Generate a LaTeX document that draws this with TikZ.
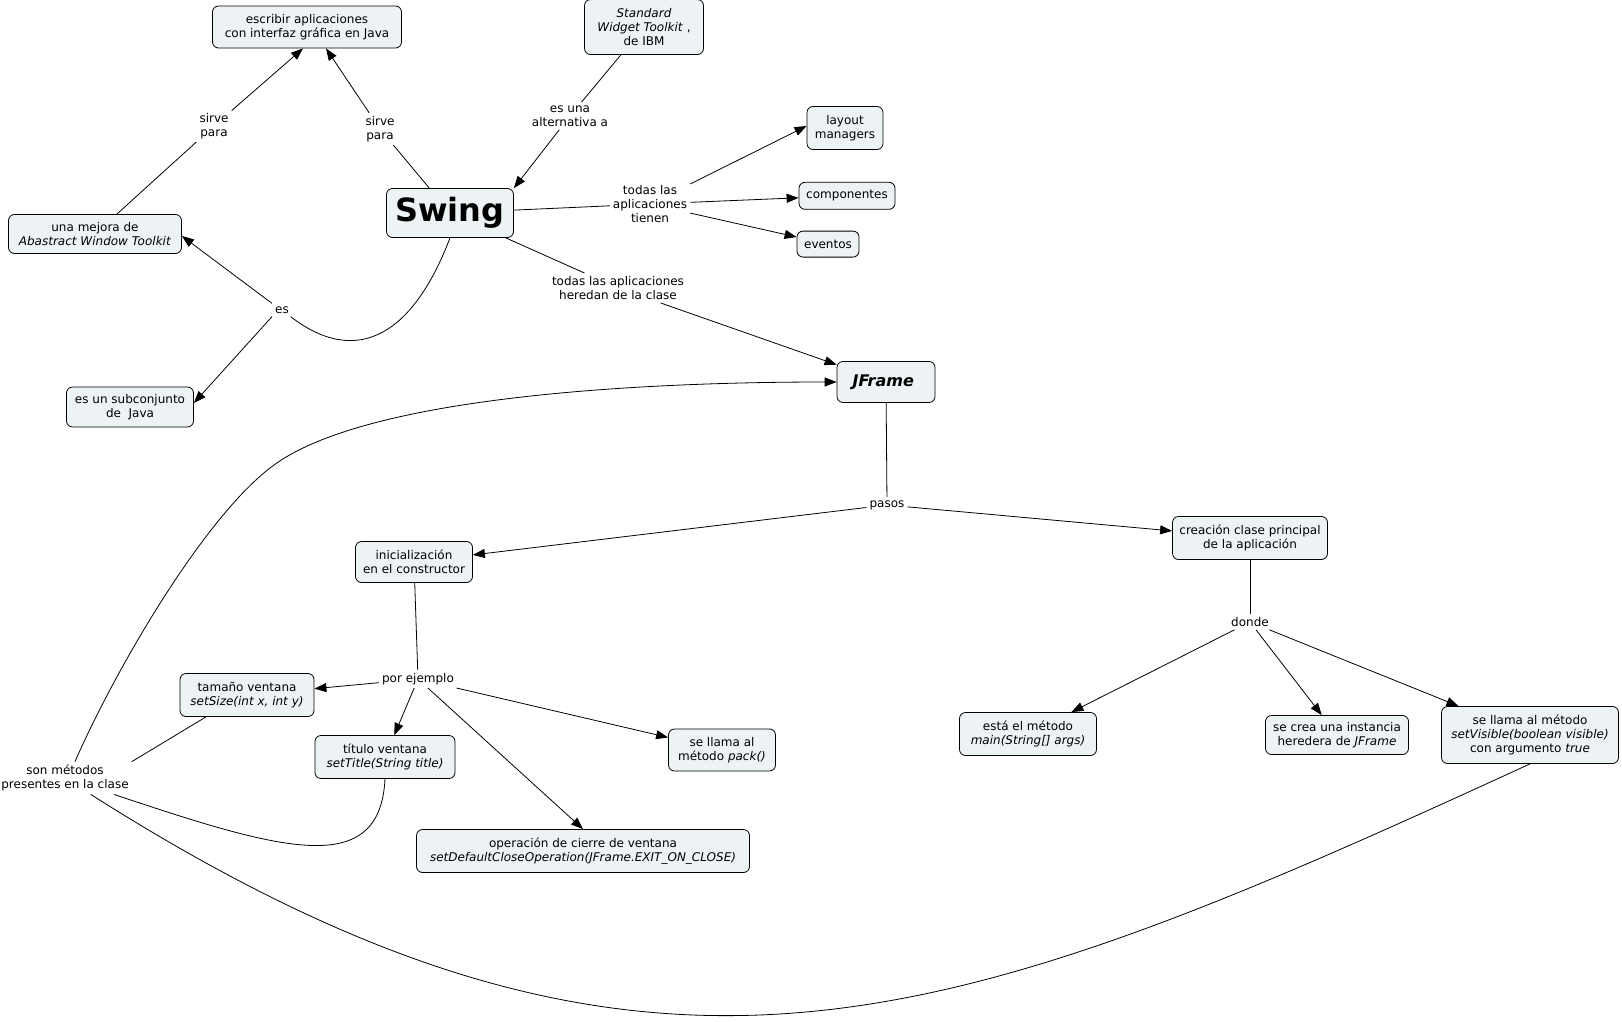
\documentclass[tikz,border=0pt]{standalone}
\usepackage{fontspec}
\setmainfont{DejaVu Sans}
\usetikzlibrary{arrows.meta,positioning}
\definecolor{cmapfill}{RGB}{237,243,245}

\begin{document}
\begin{tikzpicture}[
  x=1pt, y=-1pt,
  font=\fontsize{12}{14.3}\selectfont,
  concept/.style={
    draw,
    fill=cmapfill,
    rounded corners=6pt,
    align=center,
    inner sep=3pt,
    line width=0.8pt
  },
  phrase/.style={
    align=center,
    inner sep=3pt
  },
  link/.style={line width=0.8pt},
  arrow/.style={-{Triangle[length=12pt,width=9pt]},line width=0.8pt}
]
\useasboundingbox (0,0) rectangle (1622,1022);

% concepts
\node[concept, font=\fontsize{32}{36}\selectfont\bfseries, minimum width=127pt, minimum height=49pt] (swing) at (450,213) {Swing};
\node[concept, minimum width=189pt, minimum height=42pt] (escribir) at (307,27) {escribir aplicaciones\\con interfaz gráfica en Java};
\node[concept, minimum width=119pt, minimum height=55pt] (swt) at (644,27) {\textit{Standard}\\\textit{Widget Toolkit} ,\\de IBM};
\node[concept, minimum width=76pt, minimum height=43pt] (layout) at (845,128) {layout\\managers};
\node[concept, minimum width=96pt, minimum height=27pt, below=32pt of layout, xshift=2pt] (componentes) {componentes};
\node[concept, minimum width=62pt, minimum height=26pt, below=21pt of componentes, xshift=-19pt] (eventos) {eventos};
\node[concept, minimum width=173pt, minimum height=39pt] (mejora) at (95,234) {una mejora de\\\textit{Abastract Window Toolkit}};
\node[concept, minimum width=127pt, minimum height=40pt] (subconjunto) at (130,407) {es un subconjunto\\de\ \ Java};
\node[concept, font=\fontsize{16}{19}\selectfont\bfseries\itshape, minimum width=98pt, minimum height=41pt] (jframe) at (886,382) {JFrame\ };
\node[concept, minimum width=117pt, minimum height=41pt] (inicial) at (414,562) {inicialización\\en el constructor};
\node[concept, minimum width=155pt, minimum height=43pt] (creacion) at (1250,538) {creación clase principal\\de la aplicación};
\node[concept, minimum width=134pt, minimum height=43pt] (tamano) at (247,695) {tamaño ventana\\\textit{setSize(int x, int y)}};
\node[concept, minimum width=140pt, minimum height=43pt] (titulo) at (385,757) {título ventana\\\textit{setTitle(String title)}};
\node[concept, minimum width=107pt, minimum height=42pt] (pack) at (722,750) {se llama al\\método \textit{pack()}};
\node[concept, minimum width=333pt, minimum height=43pt] (cierre) at (583,851) {operación de cierre de ventana\\\textit{setDefaultCloseOperation(JFrame.EXIT\_ON\_CLOSE)}};
\node[concept, minimum width=137pt, minimum height=43pt] (main) at (1028,734) {está el método\\\textit{main(String[] args)}};
\node[concept, minimum width=143pt, minimum height=39pt] (instancia) at (1337,735) {se crea una instancia\\heredera de \textit{JFrame}};
\node[concept, minimum width=177pt, minimum height=57pt] (visible) at (1530,735) {se llama al método\\\textit{setVisible(boolean visible)}\\con argumento \textit{true}};

% linking phrases
\node[phrase] (sirveA) at (214,126) {sirve\\para};
\node[phrase] (sirveB) at (380,129) {sirve\\para};
\node[phrase] (alternativa) at (570,116) {es una\\alternativa a};
\node[phrase] (tienen) at (650,204) {todas las\\aplicaciones\\tienen};
\node[phrase] (heredan) at (618,288) {todas las aplicaciones\\heredan de la clase};
\node[phrase] (es) at (282,310) {es};
\node[phrase] (pasos) at (887,505) {pasos};
\node[phrase] (ejemplo) at (418,679) {por ejemplo};
\node[phrase] (donde) at (1250,622) {donde};
\node[phrase] (metodos) at (65,778) {son métodos\\presentes en la clase};

% connectors
\draw[link] (mejora) -- (sirveA);
\draw[arrow] (sirveA) -- ([xshift=-4pt]escribir.south);
\draw[link] (swing) -- (sirveB);
\draw[arrow] (sirveB) -- ([xshift=19pt]escribir.south);
\draw[link] (swt) -- (alternativa);
\draw[arrow] (alternativa) -- (swing.north east);
\draw[link] (swing) -- (tienen);
\draw[arrow] (tienen) -- ([yshift=2pt]layout.west);
\draw[arrow] (tienen) -- (componentes);
\draw[arrow] (tienen) -- (eventos);
\draw[link] (swing) -- (heredan);
\draw[arrow] (heredan) -- (jframe);
\draw[link] (swing.south) .. controls (415,330) and (360,370) .. (es);
\draw[arrow] (es.north west) -- ([yshift=-2pt]mejora.east);
\draw[arrow] (es.south west) -- ([yshift=4pt]subconjunto.east);
\draw[link] (jframe) -- (pasos);
\draw[arrow] (pasos) -- (inicial);
\draw[arrow] (pasos) -- (creacion);
\draw[link] (inicial) -- (ejemplo);
\draw[arrow] (ejemplo) -- (tamano);
\draw[arrow] (ejemplo) -- (titulo);
\draw[arrow] (ejemplo) -- (cierre.north);
\draw[arrow] (ejemplo) -- (pack);
\draw[link] (creacion) -- (donde);
\draw[arrow] (donde) -- (main);
\draw[arrow] (donde) -- (instancia);
\draw[arrow] (donde) -- (visible);
\draw[link] ([xshift=-41pt]tamano.south) -- (metodos.north east);
\draw[link] (titulo.south) .. controls (380,880) and (280,850) .. (metodos);
\draw[arrow] ([xshift=10pt]metodos.north) .. controls (115,670) and (205,515) .. (274,465)
  .. controls (370,395) and (650,382) .. (jframe);
\draw[link] (metodos) .. controls (650,1150) and (950,1030) .. (visible.south);
\end{tikzpicture}
\end{document}
